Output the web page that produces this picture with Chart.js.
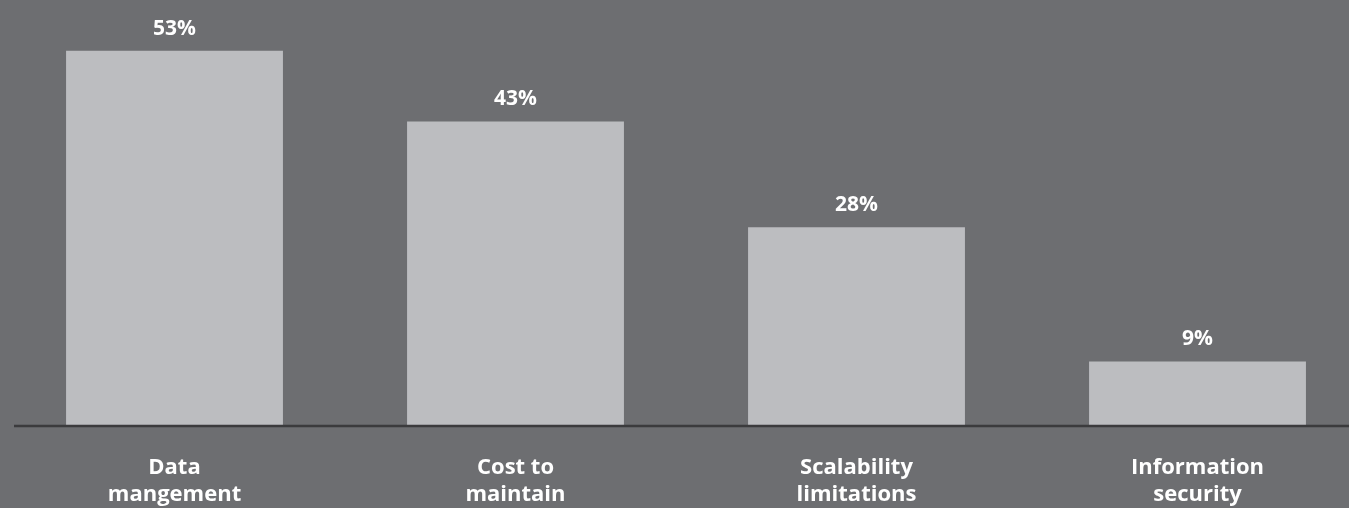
<!DOCTYPE html>
<html>
<head>
<meta charset="utf-8">
<script src="https://cdn.jsdelivr.net/npm/chart.js@4"></script>
<style>
  html, body { margin: 0; padding: 0; background: #6d6e71; overflow: hidden; }
  #wrap { width: 1368px; height: 508px; }
</style>
</head>
<body>
<div id="wrap"><canvas id="myChart"></canvas></div>
<script>
const categories = [["Data", "mangement"], ["Cost to", "maintain"], ["Scalability", "limitations"], ["Information", "security"]]
const values = [53, 43, 28, 9]

// value labels above bars + dark baseline
const extras = {
  id: 'extras',
  afterDatasetsDraw(chart) {
    const ctx = chart.ctx
    const y0 = chart.scales.y.getPixelForValue(0)
    ctx.save()
    ctx.strokeStyle = '#3b3b3d'
    ctx.lineWidth = 2.5
    ctx.beginPath()
    ctx.moveTo(14, y0 + 1)
    ctx.lineTo(chart.width, y0 + 1)
    ctx.stroke()

    ctx.fillStyle = '#ffffff'
    ctx.font = 'bold 21px "Open Sans"'
    ctx.textAlign = 'center'
    ctx.textBaseline = 'middle'
    chart.getDatasetMeta(0).data.forEach((bar, i) => {
      ctx.fillText(values[i] + '%', bar.x, bar.y - 22)
    })
    ctx.restore()
  }
}

function createChart() {
  const ctx = document.getElementById('myChart')
  new Chart(ctx, {
    type: 'bar',
    data: {
      labels: categories,
      datasets: [{
        data: values,
        backgroundColor: '#bcbdc0',
        barPercentage: 0.636,
        categoryPercentage: 1
      }]
    },
    options: {
      responsive: true,
      maintainAspectRatio: false,
      animation: false,
      layout: { padding: { left: 4, right: 0, top: 0, bottom: 0 } },
      plugins: { legend: { display: false }, tooltip: { enabled: false } },
      scales: {
        x: {
          grid: { display: false, drawTicks: false },
          border: { display: false },
          ticks: {
            color: '#ffffff',
            font: { family: 'Open Sans', weight: 'bold', size: 22, lineHeight: 1.23 },
            padding: 29,
            maxRotation: 0,
            autoSkip: false
          },
          afterFit(scale) { scale.height = 83 }
        },
        y: {
          display: false,
          min: 0,
          max: 60.2
        }
      }
    },
    plugins: [extras]
  })
}

createChart()
</script>
</body>
</html>
